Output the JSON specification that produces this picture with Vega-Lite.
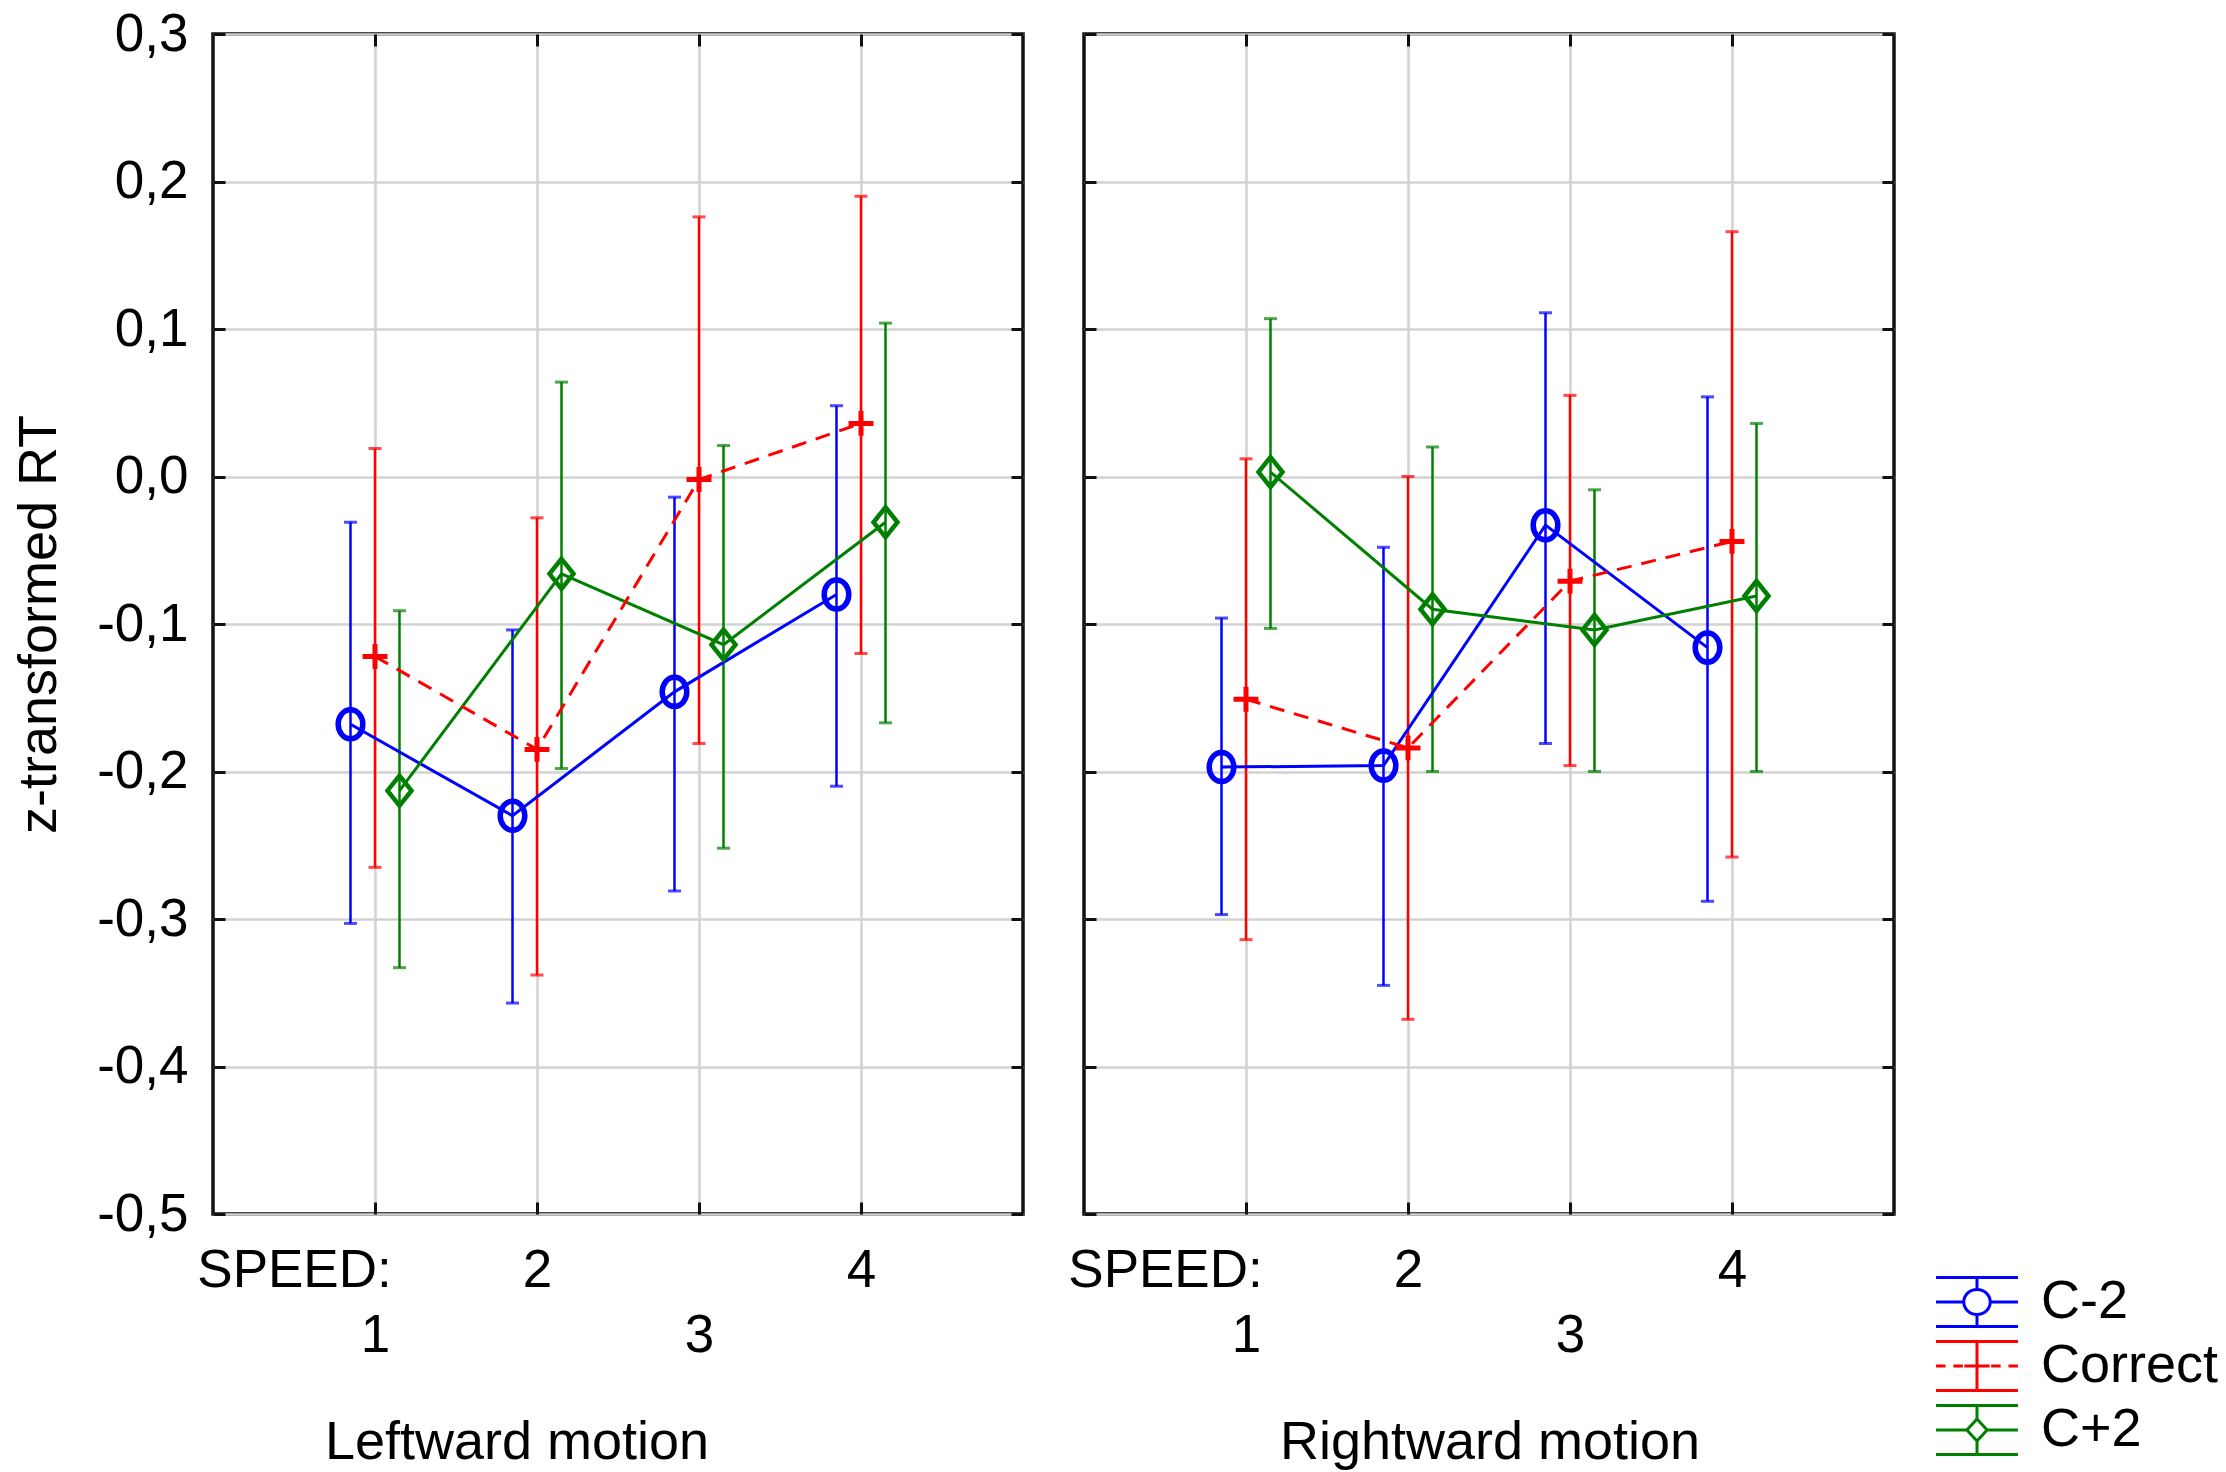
{
  "$schema": "https://vega.github.io/schema/vega-lite/v6.json",
  "background": "white",
  "padding": {"left": 10, "top": 6, "right": 5, "bottom": 5},
  "bounds": "flush",
  "spacing": 61,
  "config": {
    "font": "Liberation Sans",
    "view": {"stroke": "#111111", "strokeWidth": 3.5},
    "axis": {
      "labelFont": "Liberation Sans", "labelFontSize": 53, "labelColor": "#000000",
      "titleFont": "Liberation Sans", "titleFontSize": 54, "titleFontWeight": "normal", "titleColor": "#000000",
      "gridColor": "#d2d2d2", "gridWidth": 2.5, "domain": false,
      "tickColor": "#111111", "tickWidth": 3, "tickSize": -12
    }
  },
  "datasets": {
    "d": [
      {"motion": "Leftward", "speed": 1, "series": "C-2", "mean": -0.168, "lo": -0.303, "hi": -0.031},
      {"motion": "Leftward", "speed": 2, "series": "C-2", "mean": -0.230, "lo": -0.357, "hi": -0.104},
      {"motion": "Leftward", "speed": 3, "series": "C-2", "mean": -0.146, "lo": -0.281, "hi": -0.014},
      {"motion": "Leftward", "speed": 4, "series": "C-2", "mean": -0.080, "lo": -0.210, "hi": 0.048},
      {"motion": "Leftward", "speed": 1, "series": "Correct", "mean": -0.122, "lo": -0.265, "hi": 0.019},
      {"motion": "Leftward", "speed": 2, "series": "Correct", "mean": -0.185, "lo": -0.338, "hi": -0.028},
      {"motion": "Leftward", "speed": 3, "series": "Correct", "mean": -0.002, "lo": -0.181, "hi": 0.176},
      {"motion": "Leftward", "speed": 4, "series": "Correct", "mean": 0.036, "lo": -0.120, "hi": 0.190},
      {"motion": "Leftward", "speed": 1, "series": "C+2", "mean": -0.213, "lo": -0.333, "hi": -0.091},
      {"motion": "Leftward", "speed": 2, "series": "C+2", "mean": -0.066, "lo": -0.198, "hi": 0.064},
      {"motion": "Leftward", "speed": 3, "series": "C+2", "mean": -0.114, "lo": -0.252, "hi": 0.021},
      {"motion": "Leftward", "speed": 4, "series": "C+2", "mean": -0.031, "lo": -0.167, "hi": 0.104},
      {"motion": "Rightward", "speed": 1, "series": "C-2", "mean": -0.197, "lo": -0.297, "hi": -0.096},
      {"motion": "Rightward", "speed": 2, "series": "C-2", "mean": -0.196, "lo": -0.345, "hi": -0.048},
      {"motion": "Rightward", "speed": 3, "series": "C-2", "mean": -0.033, "lo": -0.181, "hi": 0.111},
      {"motion": "Rightward", "speed": 4, "series": "C-2", "mean": -0.116, "lo": -0.288, "hi": 0.054},
      {"motion": "Rightward", "speed": 1, "series": "Correct", "mean": -0.151, "lo": -0.314, "hi": 0.012},
      {"motion": "Rightward", "speed": 2, "series": "Correct", "mean": -0.184, "lo": -0.368, "hi": 0.000},
      {"motion": "Rightward", "speed": 3, "series": "Correct", "mean": -0.071, "lo": -0.196, "hi": 0.055},
      {"motion": "Rightward", "speed": 4, "series": "Correct", "mean": -0.044, "lo": -0.258, "hi": 0.166},
      {"motion": "Rightward", "speed": 1, "series": "C+2", "mean": 0.003, "lo": -0.103, "hi": 0.107},
      {"motion": "Rightward", "speed": 2, "series": "C+2", "mean": -0.090, "lo": -0.200, "hi": 0.020},
      {"motion": "Rightward", "speed": 3, "series": "C+2", "mean": -0.104, "lo": -0.200, "hi": -0.009},
      {"motion": "Rightward", "speed": 4, "series": "C+2", "mean": -0.081, "lo": -0.200, "hi": 0.036}
    ]
  },
  "hconcat": [
    {
      "data": {"name": "d"},
      "transform": [{"filter": "datum.motion == 'Leftward'"}],
      "width": 810,
      "height": 1180,
      "resolve": {"axis": {"x": "independent", "y": "independent"}},
      "encoding": {
        "x": {"field": "speed", "type": "ordinal", "scale": {"type": "point", "domain": [0, 0.5, 1, 1.5, 2, 2.5, 3, 3.5, 4, 4.5, 5], "padding": 0}, "axis": null},
        "xOffset": {"field": "series", "type": "nominal", "scale": {"type": "point", "domain": ["C-2", "Correct", "C+2"], "range": [-24.5, 24.5], "padding": 0}},
        "y": {"field": "mean", "type": "quantitative", "scale": {"domain": [-0.5, 0.3], "nice": false, "zero": false}, "axis": null}
      },
      "layer": [
        {
          "encoding": {
            "x": {"field": "speed", "type": "ordinal", "scale": {"type": "point", "domain": [0, 0.5, 1, 1.5, 2, 2.5, 3, 3.5, 4, 4.5, 5], "padding": 0},
              "axis": {"values": [0.5, 1, 2, 3, 4], "grid": true, "labelAngle": 0,
                "labelExpr": "datum.value == 0.5 ? 'SPEED:' : ((datum.value == 1 || datum.value == 3) ? [' ', toString(datum.value)] : toString(datum.value))",
                "labelBaseline": "top", "labelLineHeight": 65, "labelPadding": 42, "labelLimit": 400,
                "labelOverlap": false, "labelFlush": false, "labelBound": false,
                "tickOpacity": {"condition": {"test": "datum.value == 0.5", "value": 0}, "value": 1},
                "gridOpacity": {"condition": {"test": "datum.value == 0.5", "value": 0}, "value": 1},
                "title": "Leftward motion", "titleX": 303.5, "titleY": 244, "titleBaseline": "alphabetic", "titleAlign": "center"}},
            "y": {"field": "lo", "type": "quantitative", "scale": {"domain": [-0.5, 0.3], "nice": false, "zero": false},
              "axis": {"values": [-0.5, -0.4, -0.3, -0.2, -0.1, 0, 0.1, 0.2, 0.3],
                "labelExpr": "replace(replace(format(datum.value, '.1f'), '.', ','), '\u2212', '-')",
                "labelPadding": 37, "labelOverlap": false, "labelBound": false, "labelFlush": false,
                "title": "z-transformed RT", "titleX": -158, "titleBaseline": "alphabetic"}},
            "y2": {"field": "hi"}
          },
          "layer": [
            {"transform": [{"filter": "datum.series == 'C-2'"}], "mark": {"type": "rule", "strokeWidth": 2.5, "color": "#0000ff"}},
            {"transform": [{"filter": "datum.series == 'Correct'"}], "mark": {"type": "rule", "strokeWidth": 2.5, "color": "#ff0000"}},
            {"transform": [{"filter": "datum.series == 'C+2'"}], "mark": {"type": "rule", "strokeWidth": 2.5, "color": "#008000"}}
          ]
        },
        {"mark": {"type": "point", "opacity": 0},
         "encoding": {
           "x": {"field": "speed", "type": "ordinal", "scale": {"type": "point", "domain": [0, 0.5, 1, 1.5, 2, 2.5, 3, 3.5, 4, 4.5, 5], "padding": 0},
             "axis": {"orient": "top", "values": [1, 2, 3, 4], "labels": false, "title": null, "grid": false}},
           "y": {"field": "mean", "type": "quantitative", "scale": {"domain": [-0.5, 0.3], "nice": false, "zero": false},
             "axis": {"orient": "right", "values": [-0.5, -0.4, -0.3, -0.2, -0.1, 0, 0.1, 0.2, 0.3], "labels": false, "title": null, "grid": false}}}},
        {
          "encoding": {"y": {"field": "lo", "type": "quantitative", "scale": {"domain": [-0.5, 0.3], "nice": false, "zero": false}, "axis": null}},
          "layer": [
            {"transform": [{"filter": "datum.series == 'C-2'"}], "mark": {"type": "tick", "orient": "horizontal", "size": 13, "thickness": 3, "color": "#0000ff"}},
            {"transform": [{"filter": "datum.series == 'Correct'"}], "mark": {"type": "tick", "orient": "horizontal", "size": 13, "thickness": 3, "color": "#ff0000"}},
            {"transform": [{"filter": "datum.series == 'C+2'"}], "mark": {"type": "tick", "orient": "horizontal", "size": 13, "thickness": 3, "color": "#008000"}}
          ]
        },
        {
          "encoding": {"y": {"field": "hi", "type": "quantitative", "scale": {"domain": [-0.5, 0.3], "nice": false, "zero": false}, "axis": null}},
          "layer": [
            {"transform": [{"filter": "datum.series == 'C-2'"}], "mark": {"type": "tick", "orient": "horizontal", "size": 13, "thickness": 3, "color": "#0000ff"}},
            {"transform": [{"filter": "datum.series == 'Correct'"}], "mark": {"type": "tick", "orient": "horizontal", "size": 13, "thickness": 3, "color": "#ff0000"}},
            {"transform": [{"filter": "datum.series == 'C+2'"}], "mark": {"type": "tick", "orient": "horizontal", "size": 13, "thickness": 3, "color": "#008000"}}
          ]
        },
        {"transform": [{"filter": "datum.series == 'C-2'"}], "mark": {"type": "line", "strokeWidth": 3, "color": "#0000ff"}},
        {"transform": [{"filter": "datum.series == 'C+2'"}], "mark": {"type": "line", "strokeWidth": 3, "color": "#008000"}},
        {"transform": [{"filter": "datum.series == 'Correct'"}], "mark": {"type": "line", "strokeWidth": 3, "strokeDash": [15, 10], "color": "#ff0000"}},
        {"transform": [{"filter": "datum.series == 'C-2'"}],
         "mark": {"type": "point", "shape": "M-0.85,0A0.85,1 0 1,0 0.85,0A0.85,1 0 1,0 -0.85,0", "size": 840, "filled": false, "strokeWidth": 5.5, "color": "#0000ff", "opacity": 1}},
        {"transform": [{"filter": "datum.series == 'Correct'"}],
         "mark": {"type": "point", "shape": "M-1,0H1M0,-1V1", "size": 620, "filled": false, "strokeWidth": 5, "color": "#ff0000", "opacity": 1}},
        {"transform": [{"filter": "datum.series == 'C+2'"}],
         "mark": {"type": "point", "shape": "M0,-1L0.8,0L0,1L-0.8,0Z", "size": 900, "filled": false, "strokeWidth": 4.5, "color": "#008000", "opacity": 1}}
      ]
    },
    {
      "data": {"name": "d"},
      "transform": [{"filter": "datum.motion == 'Rightward'"}],
      "width": 810,
      "height": 1180,
      "resolve": {"axis": {"x": "independent", "y": "independent"}},
      "encoding": {
        "x": {"field": "speed", "type": "ordinal", "scale": {"type": "point", "domain": [0, 0.5, 1, 1.5, 2, 2.5, 3, 3.5, 4, 4.5, 5], "padding": 0}, "axis": null},
        "xOffset": {"field": "series", "type": "nominal", "scale": {"type": "point", "domain": ["C-2", "Correct", "C+2"], "range": [-24.5, 24.5], "padding": 0}},
        "y": {"field": "mean", "type": "quantitative", "scale": {"domain": [-0.5, 0.3], "nice": false, "zero": false}, "axis": null}
      },
      "layer": [
        {
          "encoding": {
            "x": {"field": "speed", "type": "ordinal", "scale": {"type": "point", "domain": [0, 0.5, 1, 1.5, 2, 2.5, 3, 3.5, 4, 4.5, 5], "padding": 0},
              "axis": {"values": [0.5, 1, 2, 3, 4], "grid": true, "labelAngle": 0,
                "labelExpr": "datum.value == 0.5 ? 'SPEED:' : ((datum.value == 1 || datum.value == 3) ? [' ', toString(datum.value)] : toString(datum.value))",
                "labelBaseline": "top", "labelLineHeight": 65, "labelPadding": 42, "labelLimit": 400,
                "labelOverlap": false, "labelFlush": false, "labelBound": false,
                "tickOpacity": {"condition": {"test": "datum.value == 0.5", "value": 0}, "value": 1},
                "gridOpacity": {"condition": {"test": "datum.value == 0.5", "value": 0}, "value": 1},
                "title": "Rightward motion", "titleX": 405.5, "titleY": 244, "titleBaseline": "alphabetic", "titleAlign": "center"}},
            "y": {"field": "lo", "type": "quantitative", "scale": {"domain": [-0.5, 0.3], "nice": false, "zero": false},
              "axis": {"values": [-0.5, -0.4, -0.3, -0.2, -0.1, 0, 0.1, 0.2, 0.3], "labels": false, "title": null}},
            "y2": {"field": "hi"}
          },
          "layer": [
            {"transform": [{"filter": "datum.series == 'C-2'"}], "mark": {"type": "rule", "strokeWidth": 2.5, "color": "#0000ff"}},
            {"transform": [{"filter": "datum.series == 'Correct'"}], "mark": {"type": "rule", "strokeWidth": 2.5, "color": "#ff0000"}},
            {"transform": [{"filter": "datum.series == 'C+2'"}], "mark": {"type": "rule", "strokeWidth": 2.5, "color": "#008000"}}
          ]
        },
        {"mark": {"type": "point", "opacity": 0, "filled": false},
         "encoding": {
           "x": {"field": "speed", "type": "ordinal", "scale": {"type": "point", "domain": [0, 0.5, 1, 1.5, 2, 2.5, 3, 3.5, 4, 4.5, 5], "padding": 0},
             "axis": {"orient": "top", "values": [1, 2, 3, 4], "labels": false, "title": null, "grid": false}},
           "y": {"field": "mean", "type": "quantitative", "scale": {"domain": [-0.5, 0.3], "nice": false, "zero": false},
             "axis": {"orient": "right", "values": [-0.5, -0.4, -0.3, -0.2, -0.1, 0, 0.1, 0.2, 0.3], "labels": false, "title": null, "grid": false}},
           "color": {"field": "series", "type": "nominal", "scale": {"domain": ["C-2", "Correct", "C+2"], "range": ["#0000ff", "#ff0000", "#008000"]},
             "legend": {"orient": "none", "legendX": 1731, "legendY": 1235, "title": null, "symbolSize": 3969, "symbolStrokeWidth": 3, "symbolFillColor": "transparent", "labelFont": "Liberation Sans", "labelFontSize": 54, "labelColor": "#000000", "labelOffset": 31, "rowPadding": 0, "padding": 0, "labelLimit": 400}},
           "shape": {"field": "series", "type": "nominal",
             "scale": {"domain": ["C-2", "Correct", "C+2"], "range": [
               "M-1.3,-0.78H1.3M-1.3,0.78H1.3M0,-0.78V-0.4M0,0.4V0.78M-1.3,0H-0.42M0.42,0H1.3M-0.42,0A0.42,0.4 0 1,0 0.42,0A0.42,0.4 0 1,0 -0.42,0",
               "M-1.3,-0.78H1.3M-1.3,0.78H1.3M0,-0.78V0.78M-1.3,0H-1.0M-0.75,0H-0.45M0.45,0H0.75M1.0,0H1.3M-0.4,0H0.4",
               "M-1.3,-0.78H1.3M-1.3,0.78H1.3M0,-0.78V-0.35M0,0.35V0.78M-1.3,0H-0.32M0.32,0H1.3M0,-0.35L0.32,0L0,0.35L-0.32,0Z"]},
             "legend": {"orient": "none", "legendX": 1731, "legendY": 1235, "title": null, "symbolSize": 3969, "symbolStrokeWidth": 3, "symbolFillColor": "transparent", "labelFont": "Liberation Sans", "labelFontSize": 54, "labelColor": "#000000", "labelOffset": 31, "rowPadding": 0, "padding": 0, "labelLimit": 400}}}},
        {
          "encoding": {"y": {"field": "lo", "type": "quantitative", "scale": {"domain": [-0.5, 0.3], "nice": false, "zero": false}, "axis": null}},
          "layer": [
            {"transform": [{"filter": "datum.series == 'C-2'"}], "mark": {"type": "tick", "orient": "horizontal", "size": 13, "thickness": 3, "color": "#0000ff"}},
            {"transform": [{"filter": "datum.series == 'Correct'"}], "mark": {"type": "tick", "orient": "horizontal", "size": 13, "thickness": 3, "color": "#ff0000"}},
            {"transform": [{"filter": "datum.series == 'C+2'"}], "mark": {"type": "tick", "orient": "horizontal", "size": 13, "thickness": 3, "color": "#008000"}}
          ]
        },
        {
          "encoding": {"y": {"field": "hi", "type": "quantitative", "scale": {"domain": [-0.5, 0.3], "nice": false, "zero": false}, "axis": null}},
          "layer": [
            {"transform": [{"filter": "datum.series == 'C-2'"}], "mark": {"type": "tick", "orient": "horizontal", "size": 13, "thickness": 3, "color": "#0000ff"}},
            {"transform": [{"filter": "datum.series == 'Correct'"}], "mark": {"type": "tick", "orient": "horizontal", "size": 13, "thickness": 3, "color": "#ff0000"}},
            {"transform": [{"filter": "datum.series == 'C+2'"}], "mark": {"type": "tick", "orient": "horizontal", "size": 13, "thickness": 3, "color": "#008000"}}
          ]
        },
        {"transform": [{"filter": "datum.series == 'C-2'"}], "mark": {"type": "line", "strokeWidth": 3, "color": "#0000ff"}},
        {"transform": [{"filter": "datum.series == 'C+2'"}], "mark": {"type": "line", "strokeWidth": 3, "color": "#008000"}},
        {"transform": [{"filter": "datum.series == 'Correct'"}], "mark": {"type": "line", "strokeWidth": 3, "strokeDash": [15, 10], "color": "#ff0000"}},
        {"transform": [{"filter": "datum.series == 'C-2'"}],
         "mark": {"type": "point", "shape": "M-0.85,0A0.85,1 0 1,0 0.85,0A0.85,1 0 1,0 -0.85,0", "size": 840, "filled": false, "strokeWidth": 5.5, "color": "#0000ff", "opacity": 1}},
        {"transform": [{"filter": "datum.series == 'Correct'"}],
         "mark": {"type": "point", "shape": "M-1,0H1M0,-1V1", "size": 620, "filled": false, "strokeWidth": 5, "color": "#ff0000", "opacity": 1}},
        {"transform": [{"filter": "datum.series == 'C+2'"}],
         "mark": {"type": "point", "shape": "M0,-1L0.8,0L0,1L-0.8,0Z", "size": 900, "filled": false, "strokeWidth": 4.5, "color": "#008000", "opacity": 1}}
      ]
    }
  ]
}
